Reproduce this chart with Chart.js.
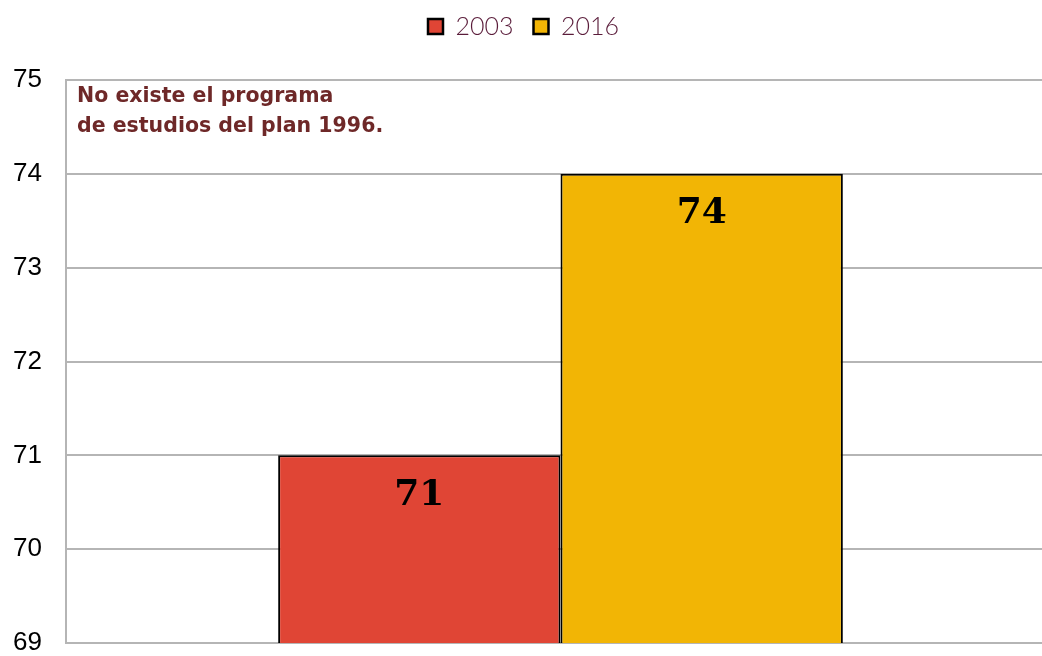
<!DOCTYPE html>
<html>
<head>
<meta charset="utf-8">
<script src="https://cdn.jsdelivr.net/npm/chart.js@4/dist/chart.umd.min.js"></script>
<style>
html,body{margin:0;padding:0;background:#fff;overflow:hidden;}
#wrap{width:1055px;height:656px;position:relative;}
</style>
</head>
<body>
<div id="wrap"><canvas id="c" width="1055" height="656"></canvas></div>
<script>
const categories = [""];
const seriesNames = ["2003", "2016"];
const values2003 = [71];
const values2016 = [74];
const yTicks = [69, 70, 71, 72, 73, 74, 75];
const noteLines = ["No existe el programa", "de estudios del plan 1996."];

const labelPlugin = {
  id: 'barLabels',
  afterDatasetsDraw(chart) {
    const ctx = chart.ctx;
    ctx.save();
    ctx.font = 'bold 36px "DejaVu Serif"';
    ctx.fillStyle = '#000';
    ctx.textAlign = 'center';
    ctx.textBaseline = 'middle';
    chart.data.datasets.forEach((ds, i) => {
      chart.getDatasetMeta(i).data.forEach((bar, j) => {
        ctx.fillText(String(ds.data[j]), bar.x, bar.y + 40);
      });
    });
    ctx.restore();
  }
};
const notePlugin = {
  id: 'note',
  afterDraw(chart) {
    const ctx = chart.ctx;
    const a = chart.chartArea;
    ctx.save();
    ctx.font = 'bold 20.5px "DejaVu Sans"';
    ctx.fillStyle = '#6E2828';
    ctx.textAlign = 'left';
    ctx.textBaseline = 'middle';
    noteLines.forEach((t, i) => ctx.fillText(t, a.left + 11, a.top + 17 + i * 30));
    ctx.restore();
  }
};
const legendSpace = {
  id: 'legendSpace',
  beforeInit(chart) {
    const orig = chart.legend.fit;
    chart.legend.fit = function () { orig.call(this); this.height += 21; };
  },
  afterLayout(chart) {
    chart.legend.left -= 4;
    chart.legend.right -= 4;
    chart.legend.top -= 10;
  }
};

new Chart(document.getElementById('c'), {
  type: 'bar',
  data: {
    labels: categories,
    datasets: [
      { label: seriesNames[0], data: values2003, backgroundColor: '#E04535', borderColor: '#000', borderWidth: 2, categoryPercentage: 0.571, barPercentage: 1 },
      { label: seriesNames[1], data: values2016, backgroundColor: '#F2B505', borderColor: '#000', borderWidth: 2, categoryPercentage: 0.571, barPercentage: 1 }
    ]
  },
  options: {
    responsive: false,
    animation: false,
    layout: { padding: { left: 0, right: 0, top: 4, bottom: 13 } },
    plugins: {
      legend: {
        display: true,
        position: 'top',
        labels: {
          font: { family: 'Lato', size: 25, weight: 300 },
          color: '#5A1C3A',
          boxWidth: 15, boxHeight: 15,
          padding: 20,
          generateLabels(chart) {
            return chart.data.datasets.map((ds, i) => ({
              text: ds.label, fillStyle: ds.backgroundColor, strokeStyle: '#000', lineWidth: 2.5, datasetIndex: i, fontColor: '#5A1C3A'
            }));
          }
        }
      },
      tooltip: { enabled: false }
    },
    scales: {
      x: {
        display: false
      },
      y: {
        min: yTicks[0], max: yTicks[yTicks.length - 1],
        afterBuildTicks(scale) { scale.ticks = yTicks.map(v => ({ value: v })); },
        grid: { color: '#B5B5B5', lineWidth: 2, drawTicks: false },
        border: { display: true, color: '#B5B5B5', width: 2 },
        ticks: { font: { family: '"Liberation Sans"', size: 26 }, color: '#000', padding: 24 },
        afterFit(scale) { scale.width = 66; scale.paddingBottom = 0; scale.paddingTop = 0; }
      }
    }
  },
  plugins: [legendSpace, labelPlugin, notePlugin]
});
</script>
</body>
</html>
